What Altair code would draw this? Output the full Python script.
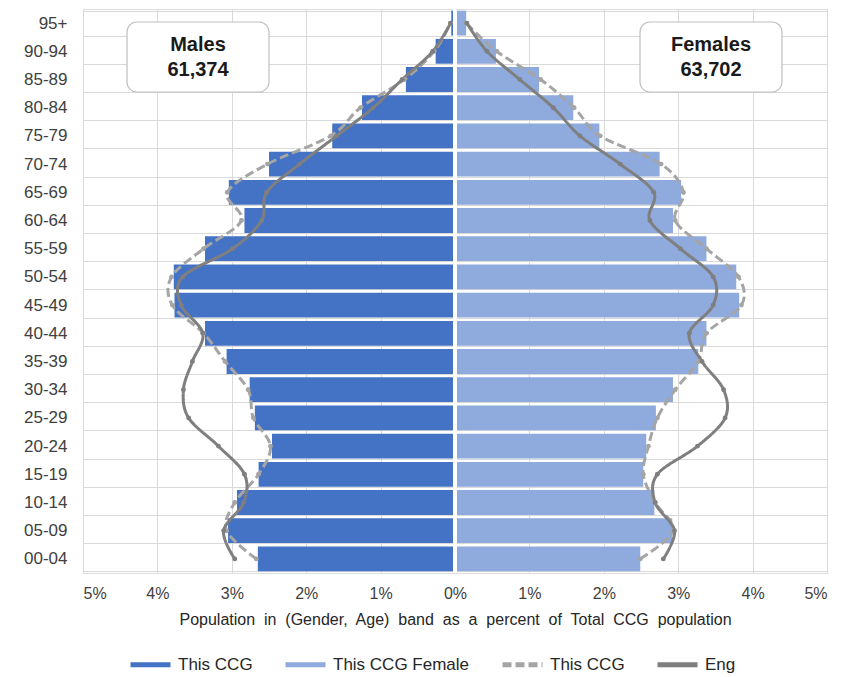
import altair as alt
import pandas as pd

ages = ["00-04", "05-09", "10-14", "15-19", "20-24", "25-29", "30-34", "35-39",
        "40-44", "45-49", "50-54", "55-59", "60-64", "65-69", "70-74", "75-79",
        "80-84", "85-89", "90-94", "95+"]

# Percent of total CCG population
male_ccg = [2.65, 3.05, 2.93, 2.64, 2.46, 2.69, 2.76, 3.07, 3.36, 3.77,
            3.78, 3.36, 2.83, 3.04, 2.50, 1.65, 1.25, 0.66, 0.26, 0.05]
female_ccg = [2.49, 2.92, 2.68, 2.53, 2.57, 2.70, 2.93, 3.27, 3.38, 3.82,
              3.78, 3.38, 2.93, 3.04, 2.75, 1.94, 1.59, 1.13, 0.55, 0.15]
male_ccg_line = [2.67, 3.07, 2.96, 2.64, 2.48, 2.71, 2.78, 3.09, 3.38, 3.80,
                 3.81, 3.38, 2.87, 3.06, 2.52, 1.67, 1.27, 0.68, 0.28, 0.06]
female_ccg_line = [2.49, 2.93, 2.69, 2.53, 2.60, 2.72, 2.96, 3.27, 3.38, 3.85,
                   3.81, 3.38, 2.96, 3.07, 2.77, 1.95, 1.60, 1.15, 0.56, 0.15]
male_eng = [2.96, 3.11, 2.84, 2.83, 3.18, 3.58, 3.65, 3.53, 3.39, 3.68,
            3.66, 2.99, 2.60, 2.53, 2.09, 1.59, 1.10, 0.71, 0.30, 0.06]
female_eng = [2.80, 2.95, 2.69, 2.72, 3.26, 3.63, 3.61, 3.32, 3.15, 3.47,
              3.47, 3.03, 2.62, 2.67, 2.22, 1.68, 1.32, 0.87, 0.43, 0.16]

series_names = ["This CCG", "This CCG Female", "This CCG ", "Eng"]
series_colors = ["#4472C4", "#8FAADC", "#A5A5A5", "#7F7F7F"]

box_titles = ["Males", "Females"]
box_totals = ["61,374", "63,702"]

rows = []
for i, a in enumerate(ages):
    rows.append(dict(age=a, idx=i, value=-male_ccg[i], series=series_names[0], side="M", kind="bar"))
    rows.append(dict(age=a, idx=i, value=female_ccg[i], series=series_names[1], side="F", kind="bar"))
    rows.append(dict(age=a, idx=i, value=-male_ccg_line[i], series=series_names[2], side="M", kind="line"))
    rows.append(dict(age=a, idx=i, value=female_ccg_line[i], series=series_names[2], side="F", kind="line"))
    rows.append(dict(age=a, idx=i, value=-male_eng[i], series=series_names[3], side="M", kind="line"))
    rows.append(dict(age=a, idx=i, value=female_eng[i], series=series_names[3], side="F", kind="line"))
df = pd.DataFrame(rows)

FONT = "Liberation Sans"
label_expr = "datum.label == 'This CCG ' ? 'This CCG' : datum.label"
x_title = "Population\u00a0 in\u00a0 (Gender,\u00a0 Age)\u00a0 band\u00a0 as\u00a0 a\u00a0 percent\u00a0 of\u00a0 Total\u00a0 CCG\u00a0 population"

y_enc = alt.Y("age:N", sort=list(reversed(ages)),
              scale=alt.Scale(paddingInner=0.12, paddingOuter=0.06),
              axis=alt.Axis(title=None, grid=True, tickBand="extent", ticks=False, domain=False,
                            gridColor="#D9D9D9", labelFont=FONT, labelFontSize=17,
                            labelColor="#404040", labelPadding=16))
x_enc = alt.X("value:Q", scale=alt.Scale(domain=[-5, 5], nice=False),
              axis=alt.Axis(values=list(range(-5, 6)), labelExpr="abs(datum.value) + '%'",
                            title=x_title,
                            grid=True, gridColor="#D9D9D9", ticks=False, domain=False,
                            labelFont=FONT, labelFontSize=16, labelColor="#404040",
                            labelPadding=12, titleFont=FONT, titleFontSize=16,
                            titleFontWeight="normal", titleColor="#262626", titlePadding=10))

color_scale = alt.Scale(domain=series_names, range=series_colors)
dash_scale = alt.Scale(domain=series_names, range=[[1, 0], [1, 0], [9, 4], [1, 0]])

legend = alt.Legend(title=None, orient="none", legendX=45, legendY=633, direction="horizontal",
                    labelExpr=label_expr,
                    symbolType="stroke", symbolSize=1600, symbolStrokeWidth=5,
                    labelFont=FONT, labelFontSize=17, labelColor="#262626", labelOffset=5,
                    columnPadding=22, labelLimit=300)

base = alt.Chart(df)

bars = base.transform_filter(alt.datum.kind == "bar").mark_bar().encode(
    x=x_enc, y=y_enc,
    color=alt.Color("series:N", scale=color_scale, legend=legend),
    strokeDash=alt.StrokeDash("series:N", scale=dash_scale, legend=legend),
)

zero = alt.Chart(pd.DataFrame({"v": [0]})).mark_rule(color="white", strokeWidth=4).encode(x="v:Q")

lines = base.transform_filter(alt.datum.kind == "line").mark_line(
    interpolate="cardinal", strokeWidth=3,
    point=alt.OverlayMarkDef(size=24, filled=True, opacity=1)
).encode(
    x="value:Q", y=alt.Y("age:N", sort=list(reversed(ages))),
    color=alt.Color("series:N", scale=color_scale, legend=legend),
    strokeDash=alt.StrokeDash("series:N", scale=dash_scale, legend=legend),
    detail="side:N",
    order="idx:Q",
)

box_df = pd.DataFrame({"title": box_titles, "total": box_totals, "px": [115, 628]})
boxes = alt.Chart(box_df).transform_calculate(
    x1="datum.px - 71", x2="datum.px + 71"
).mark_rect(fill="white", stroke="#BFBFBF", strokeWidth=1.2, cornerRadius=10).encode(
    x=alt.X("x1:Q", scale=None), x2="x2:Q", y=alt.value(13), y2=alt.value(83)
)
t1 = alt.Chart(box_df).mark_text(font=FONT, fontSize=20, fontWeight="bold", color="#1A1A1A").encode(
    x=alt.X("px:Q", scale=None), y=alt.value(36), text="title:N")
t2 = alt.Chart(box_df).mark_text(font=FONT, fontSize=20, fontWeight="bold", color="#1A1A1A").encode(
    x=alt.X("px:Q", scale=None), y=alt.value(61), text="total:N")

chart = alt.layer(bars, zero, lines, boxes, t1, t2).properties(
    width=744, height=564,
    autosize=alt.AutoSizeParams(type="none"),
    padding={"left": 75, "top": 1, "right": 19, "bottom": 104}
).configure_view(stroke=None).configure(background="white")

chart.save("out.html", embed_options={"renderer": "svg", "actions": False})
